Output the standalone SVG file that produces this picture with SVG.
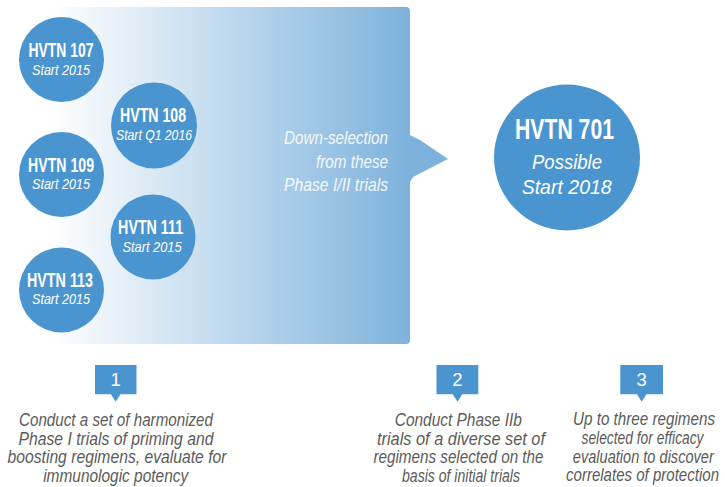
<svg xmlns="http://www.w3.org/2000/svg" width="725" height="487" viewBox="0 0 725 487">
  <defs>
    <linearGradient id="fade" gradientUnits="userSpaceOnUse" x1="50" y1="0" x2="410" y2="0">
      <stop offset="0" stop-color="#ffffff"/>
      <stop offset="1" stop-color="#7db2dc"/>
    </linearGradient>
    <style>
      .dot { fill: #4a95cf; }
      .title { font-family: "Liberation Sans", Arial, sans-serif; font-weight: bold; fill: #ffffff; text-anchor: middle; }
      .sub { font-family: "Liberation Sans", Arial, sans-serif; font-style: italic; fill: #ffffff; text-anchor: middle; }
      .note { font-family: "Liberation Sans", Arial, sans-serif; font-style: italic; fill: #f4f8fc; text-anchor: end; font-size: 18.5px; }
      .num { font-family: "Liberation Sans", Arial, sans-serif; fill: #ffffff; text-anchor: middle; font-size: 18.5px; }
      .cap { font-family: "Liberation Sans", Arial, sans-serif; font-style: italic; fill: #5b5b5b; text-anchor: middle; font-size: 18px; }
    </style>
  </defs>

  <rect width="725" height="487" fill="#ffffff"/>

  <!-- funnel band with the down-selection pointer -->
  <g id="funnel">
    <path d="M50,7 H406 Q410,7 410,11 V135 L420,140 L448,159 L413,177 L410,182 V340 Q410,344 406,344 H50 Z" fill="url(#fade)"/>
    <text class="note" x="388" y="144" textLength="104" lengthAdjust="spacingAndGlyphs">Down-selection</text>
    <text class="note" x="388" y="167.5" textLength="72" lengthAdjust="spacingAndGlyphs">from these</text>
    <text class="note" x="388" y="191" textLength="104" lengthAdjust="spacingAndGlyphs">Phase I/II trials</text>
  </g>

  <!-- Phase I trials -->
  <g id="hvtn107">
    <circle class="dot" cx="61.5" cy="59.5" r="42.5"/>
    <text class="title" x="61" y="57" font-size="20" textLength="65" lengthAdjust="spacingAndGlyphs">HVTN 107</text>
    <text class="sub" x="61" y="75" font-size="15" textLength="58" lengthAdjust="spacingAndGlyphs">Start 2015</text>
  </g>
  <g id="hvtn108">
    <circle class="dot" cx="154" cy="125.5" r="43"/>
    <text class="title" x="153" y="121.7" font-size="20" textLength="66" lengthAdjust="spacingAndGlyphs">HVTN 108</text>
    <text class="sub" x="154" y="139.5" font-size="15" textLength="76" lengthAdjust="spacingAndGlyphs">Start Q1 2016</text>
  </g>
  <g id="hvtn109">
    <circle class="dot" cx="61.5" cy="174.5" r="42.5"/>
    <text class="title" x="61" y="171.7" font-size="20" textLength="66" lengthAdjust="spacingAndGlyphs">HVTN 109</text>
    <text class="sub" x="61" y="189" font-size="15" textLength="58" lengthAdjust="spacingAndGlyphs">Start 2015</text>
  </g>
  <g id="hvtn111">
    <circle class="dot" cx="153" cy="237" r="42.5"/>
    <text class="title" x="150.6" y="234" font-size="20" textLength="65" lengthAdjust="spacingAndGlyphs">HVTN 111</text>
    <text class="sub" x="152" y="251.7" font-size="15" textLength="59" lengthAdjust="spacingAndGlyphs">Start 2015</text>
  </g>
  <g id="hvtn113">
    <circle class="dot" cx="61.5" cy="290" r="42.5"/>
    <text class="title" x="60" y="286.7" font-size="20" textLength="66" lengthAdjust="spacingAndGlyphs">HVTN 113</text>
    <text class="sub" x="61" y="304" font-size="15" textLength="58" lengthAdjust="spacingAndGlyphs">Start 2015</text>
  </g>

  <!-- efficacy trial -->
  <g id="hvtn701">
    <circle class="dot" cx="567" cy="157.5" r="73"/>
    <text class="title" x="564.5" y="139.3" font-size="30" textLength="99" lengthAdjust="spacingAndGlyphs">HVTN 701</text>
    <text class="sub" x="567" y="169.3" font-size="21" textLength="70" lengthAdjust="spacingAndGlyphs">Possible</text>
    <text class="sub" x="566.7" y="194.3" font-size="21" textLength="90" lengthAdjust="spacingAndGlyphs">Start 2018</text>
  </g>

  <!-- numbered steps -->
  <g id="step1">
    <path class="dot" d="M95,365 H136.5 V394.3 H120.5 L115.7,401.7 L110.9,394.3 H95 Z"/>
    <text class="num" x="115.7" y="386">1</text>
    <text class="cap" x="116" y="425.5" textLength="194" lengthAdjust="spacingAndGlyphs">Conduct a set of harmonized</text>
    <text class="cap" x="116" y="444.5" textLength="195" lengthAdjust="spacingAndGlyphs">Phase I trials of priming and</text>
    <text class="cap" x="117" y="463" textLength="219" lengthAdjust="spacingAndGlyphs">boosting regimens, evaluate for</text>
    <text class="cap" x="115.7" y="481.5" textLength="145" lengthAdjust="spacingAndGlyphs">immunologic potency</text>
  </g>
  <g id="step2">
    <path class="dot" d="M436.5,365 H478.3 V394.3 H462.3 L457.5,401.7 L452.7,394.3 H436.5 Z"/>
    <text class="num" x="457.5" y="386">2</text>
    <text class="cap" x="458.3" y="425.5" textLength="127" lengthAdjust="spacingAndGlyphs">Conduct Phase IIb</text>
    <text class="cap" x="461" y="444.5" textLength="168" lengthAdjust="spacingAndGlyphs">trials of a diverse set of</text>
    <text class="cap" x="458.5" y="463" textLength="170" lengthAdjust="spacingAndGlyphs">regimens selected on the</text>
    <text class="cap" x="461" y="481.5" textLength="118" lengthAdjust="spacingAndGlyphs">basis of initial trials</text>
  </g>
  <g id="step3">
    <path class="dot" d="M620.3,365 H663 V394.3 H646.5 L641.7,401.7 L636.9,394.3 H620.3 Z"/>
    <text class="num" x="641.7" y="386">3</text>
    <!-- narrowed caption column near the right edge -->
    <g transform="translate(642,0) scale(0.75,1)">
      <text class="cap" x="2.67" y="425.5" textLength="189.3" lengthAdjust="spacingAndGlyphs">Up to three regimens</text>
      <text class="cap" x="0.67" y="444.5" textLength="162.7" lengthAdjust="spacingAndGlyphs">selected for efficacy</text>
      <text class="cap" x="1.73" y="463" textLength="188" lengthAdjust="spacingAndGlyphs">evaluation to discover</text>
      <text class="cap" x="0.67" y="481.5" textLength="204" lengthAdjust="spacingAndGlyphs">correlates of protection</text>
    </g>
  </g>
</svg>
